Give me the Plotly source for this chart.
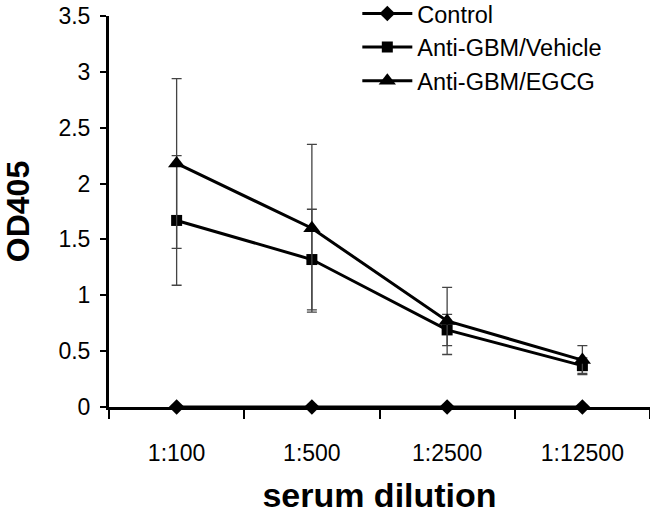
import plotly.graph_objects as go

dilutions = ["1:100", "1:500", "1:2500", "1:12500"]

control = [0, 0, 0, 0]
vehicle = [1.67, 1.32, 0.69, 0.37]
vehicle_err = [0.58, 0.45, 0.14, 0.07]
egcg = [2.18, 1.60, 0.77, 0.42]
egcg_err = [0.76, 0.75, 0.30, 0.13]

font = "Arial, Liberation Sans, sans-serif"

fig = go.Figure()

fig.add_trace(go.Scatter(
    x=dilutions, y=control, name="Control",
    mode="lines+markers",
    line=dict(color="black", width=3),
    marker=dict(symbol="diamond", size=12, color="black"),
    cliponaxis=False
))

fig.add_trace(go.Scatter(
    x=dilutions, y=vehicle, name="Anti-GBM/Vehicle",
    mode="lines+markers",
    line=dict(color="black", width=3),
    marker=dict(symbol="square", size=11, color="black"),
    error_y=dict(type="data", array=vehicle_err, color="#444", thickness=1.3, width=5),
    cliponaxis=False
))

fig.add_trace(go.Scatter(
    x=dilutions, y=egcg, name="Anti-GBM/EGCG",
    mode="lines+markers",
    line=dict(color="black", width=3),
    marker=dict(symbol="triangle-up", size=15, color="black"),
    error_y=dict(type="data", array=egcg_err, color="#444", thickness=1.3, width=5),
    cliponaxis=False
))

fig.update_layout(
    width=650,
    height=518,
    margin=dict(l=109, r=0, t=16, b=111, autoexpand=False),
    plot_bgcolor="white",
    paper_bgcolor="white",
    font=dict(family=font, size=23, color="black"),
    showlegend=True,
    legend=dict(
        x=0.459, y=1.062, xanchor="left", yanchor="top",
        font=dict(size=23.5, family=font),
        bgcolor="rgba(0,0,0,0)",
        itemwidth=50,
        tracegroupgap=0
    ),
    xaxis=dict(
        type="category",
        range=[-0.5, 3.5],
        automargin=False,
        showline=True, linecolor="black", linewidth=3,
        ticks="outside", tickson="boundaries", ticklen=9, tickwidth=2, tickcolor="black",
        ticklabelstandoff=23,
        showgrid=False, zeroline=False,
        title=dict(text="<b>serum dilution</b>", font=dict(size=34, family=font), standoff=19)
    ),
    yaxis=dict(
        range=[0, 3.5],
        automargin=False,
        tickvals=[0, 0.5, 1, 1.5, 2, 2.5, 3, 3.5],
        ticktext=["0", "0.5", "1", "1.5", "2", "2.5", "3", "3.5"],
        ticklabeloverflow="allow",
        showline=True, linecolor="black", linewidth=3,
        ticks="outside", ticklen=6, tickwidth=2, tickcolor="black",
        ticklabelstandoff=5,
        showgrid=False, zeroline=False,
        title=dict(text="<b>OD405</b>", font=dict(size=32, family=font), standoff=29)
    )
)

# drop the default 8px body margin so the figure fills the window
fig.write_html(
    "out.html",
    config={"displayModeBar": False},
    post_script="document.body.style.margin='0';"
)
